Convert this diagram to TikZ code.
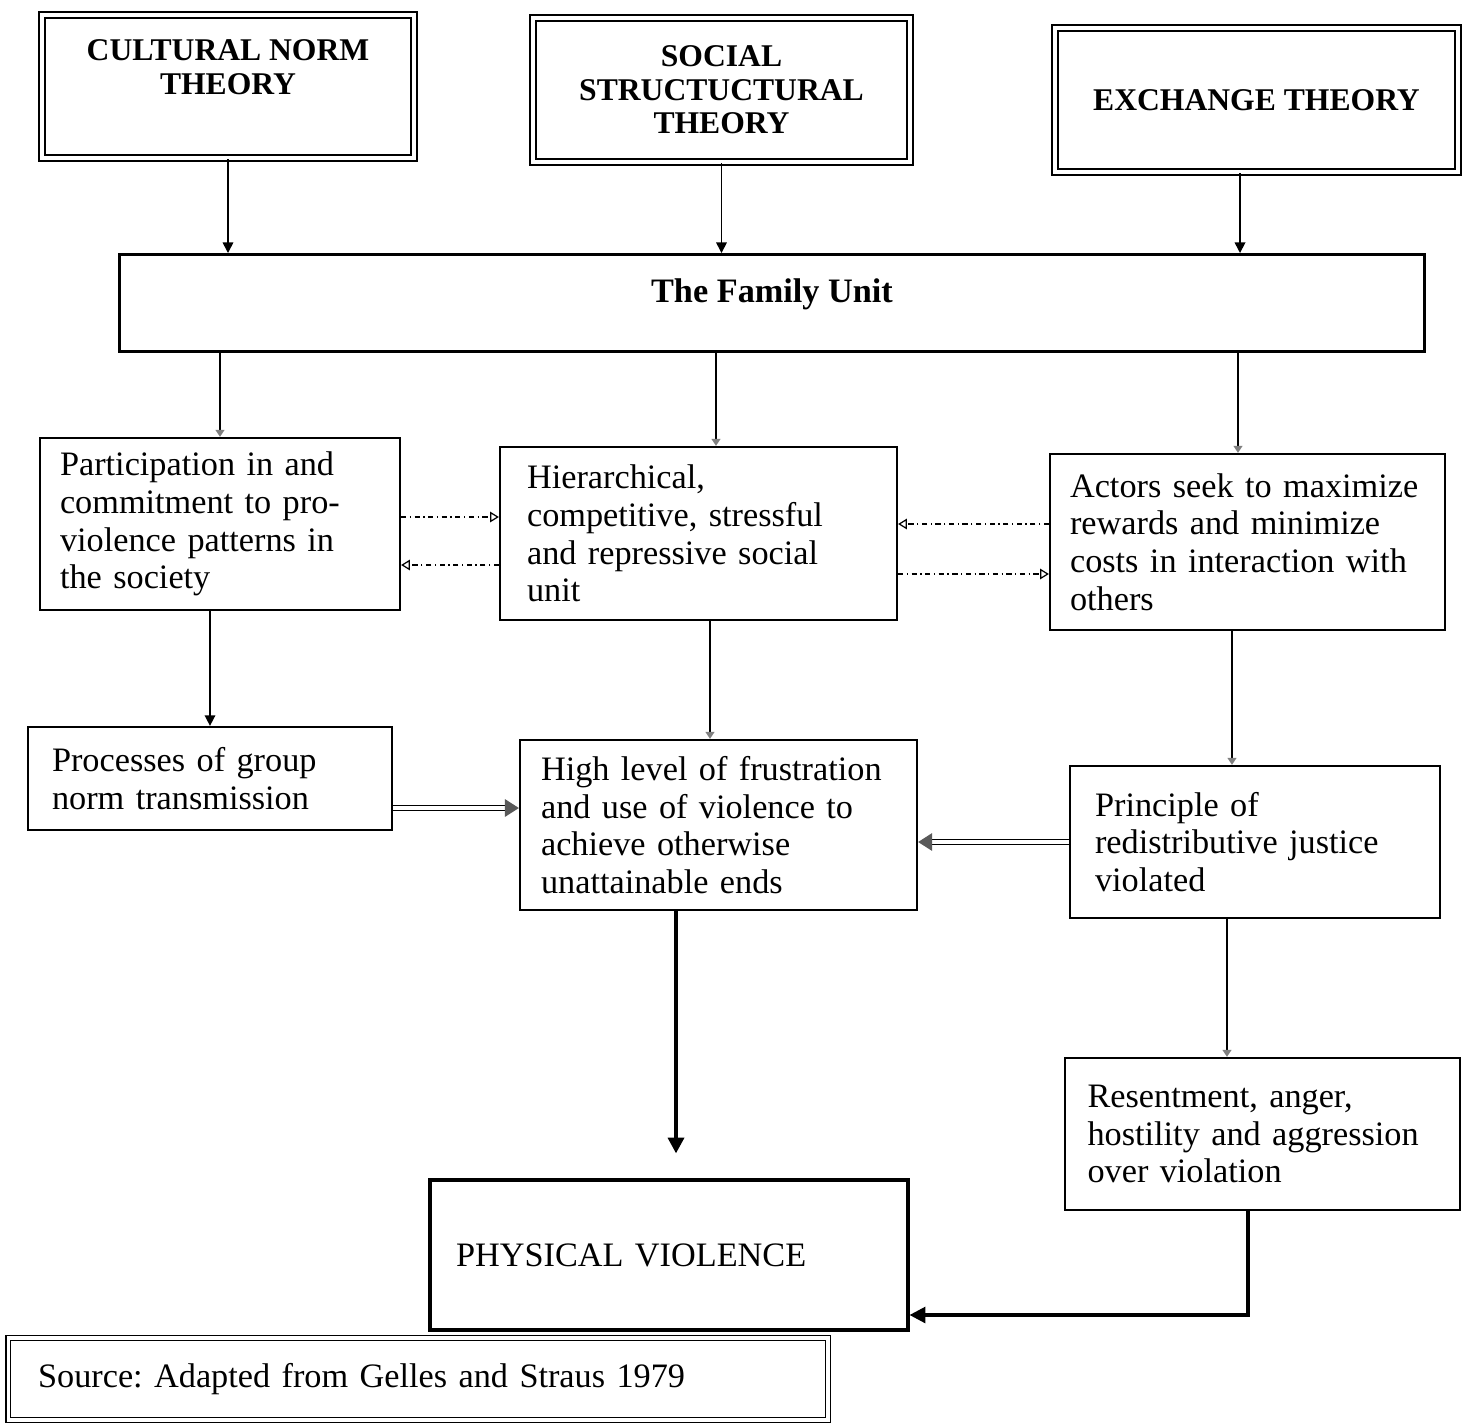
\documentclass[tikz,border=0pt]{standalone}
\usepackage{fontspec}
\setmainfont{Liberation Serif}
\usetikzlibrary{arrows.meta}

\newcommand{\sink}[1]{\rule[-#1]{0pt}{#1}}
\frenchspacing

\begin{document}
\begin{tikzpicture}[x=0.02cm, y=-0.02cm,
        theory/.style={draw, double, double distance=2.6pt, line width=1.2pt, inner sep=0pt, align=center, font=\fontsize{18}{19}\selectfont\bfseries},
        box/.style={draw, line width=1.3pt, inner sep=0pt, align=left, font=\fontsize{19.5}{21.5}\selectfont},
        arr/.style={line width=0.9pt, -{Triangle[length=6pt,width=6pt]}},
        tiny/.style={line width=0.9pt, -{Triangle[length=4pt,width=5pt,color=gray]}},
        link/.style={line width=0.7pt, dash dot, -{Triangle[open,length=5pt,width=6pt]}},
        pipe/.style={double, double distance=1.8pt, line width=0.9pt, -{Triangle[length=8pt,width=10pt,color=gray!70!black]}},
        bold/.style={line width=2.2pt, -{Triangle[length=9pt,width=9pt]}}]

            %\draw [help lines] (0,0) grid (1470,1427);

            \useasboundingbox (0,0) rectangle (1470,1427);

            \path   (228,86.5) node (a) [theory, minimum width=7.44cm, minimum height=2.86cm] {CULTURAL NORM\\THEORY\sink{0.78cm}}
                    (721.5,90) node (b) [theory, minimum width=7.54cm, minimum height=2.88cm] {SOCIAL\\STRUCTUCTURAL\\THEORY}
                    (1256.5,100) node (c) [theory, minimum width=8.06cm, minimum height=2.88cm] {EXCHANGE THEORY}
                    (772,303) node (d) [box, line width=1.7pt, minimum width=26.1cm, minimum height=1.94cm, font=\fontsize{19.5}{21.5}\selectfont\bfseries] {The Family Unit\sink{0.48cm}}
                    (220,524) node (e) [box, minimum width=7.2cm, minimum height=3.44cm, text width=6.4cm] {Participation in and\\commitment to pro-\\violence patterns in\\the society}
                    (698.5,533.5) node (f) [box, minimum width=7.94cm, minimum height=3.46cm, text width=6.86cm] {Hierarchical,\\competitive, stressful\\and repressive social\\unit}
                    (1247.5,542) node (g) [box, minimum width=7.9cm, minimum height=3.52cm, text width=7.1cm] {Actors seek to maximize\\rewards and minimize\\costs in interaction with\\others}
                    (210,778.5) node (h) [box, minimum width=7.28cm, minimum height=2.06cm, text width=6.32cm] {Processes of group\\norm transmission}
                    (718.5,825) node (i) [box, minimum width=7.94cm, minimum height=3.4cm, text width=7.1cm] {High level of frustration\\and use of violence to\\achieve otherwise\\unattainable ends}
                    (1255,842) node (j) [box, minimum width=7.4cm, minimum height=3.04cm, text width=6.4cm] {Principle of\\redistributive justice\\violated}
                    (1262.5,1134) node (k) [box, minimum width=7.9cm, minimum height=3.04cm, text width=7.0cm] {Resentment, anger,\\hostility and aggression\\over violation}
                    (669,1255) node (l) [box, line width=1.8pt, minimum width=9.56cm, minimum height=3.0cm, text width=8.52cm] {PHYSICAL VIOLENCE}
                    (418,1379) node (m) [box, double, double distance=1.8pt, line width=1.0pt, minimum width=16.4cm, minimum height=1.64cm, text width=15.2cm] {Source: Adapted from Gelles and Straus 1979};

            \draw [arr] (a.south) -- (a.south |- d.north);
            \draw [arr] (b.south) -- (b.south |- d.north);
            \draw [arr] ([xshift=-0.33cm]c.south) -- ([xshift=-0.33cm]c.south |- d.north);

            \draw [tiny] (e.north |- d.south) -- (e.north);
            \draw [tiny] ([xshift=0.35cm]f.north |- d.south) -- ([xshift=0.35cm]f.north);
            \draw [tiny] ([xshift=-0.19cm]g.north |- d.south) -- ([xshift=-0.19cm]g.north);

            \draw [link] ([yshift=0.14cm]e.east) -- ([yshift=0.14cm]e.east -| f.west);
            \draw [link] ([yshift=-0.82cm]e.east -| f.west) -- ([yshift=-0.82cm]e.east);
            \draw [link] ([yshift=0.36cm]g.west) -- ([yshift=0.36cm]g.west -| f.east);
            \draw [link] ([yshift=-0.64cm]g.west -| f.east) -- ([yshift=-0.64cm]g.west);

            \draw [arr] (h.north |- e.south) -- (h.north);
            \draw [tiny] ([xshift=0.23cm]f.south) -- ([xshift=0.23cm]f.south |- i.north);
            \draw [tiny] ([xshift=-0.31cm]g.south) -- ([xshift=-0.31cm]g.south |- j.north);
            \draw [tiny] ([xshift=-0.56cm]j.south) -- ([xshift=-0.56cm]j.south |- k.north);

            \draw [pipe] ([yshift=-0.59cm]h.east) -- ([yshift=-0.59cm]h.east -| i.west);
            \draw [pipe] (j.west) -- (j.west -| i.east);

            \draw [bold, shorten >=0.5cm] ([xshift=-0.85cm]i.south) -- ([xshift=-0.85cm]i.south |- l.north);
            \draw [bold, line width=1.8pt] ([xshift=-0.29cm]k.south) |- ([yshift=-1.2cm]l.east);

        \end{tikzpicture}
\end{document}
